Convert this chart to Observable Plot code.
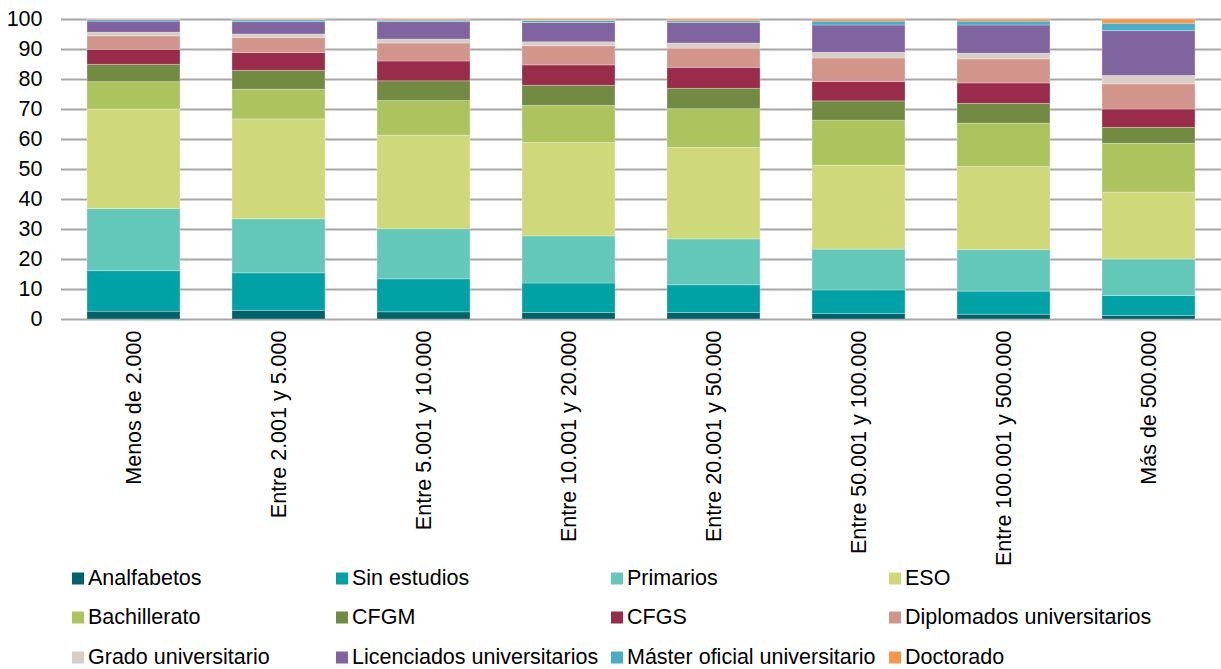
<!DOCTYPE html>
<html>
<head>
<meta charset="utf-8">
<script src="https://cdn.jsdelivr.net/npm/d3@7"></script>
<script src="https://cdn.jsdelivr.net/npm/@observablehq/plot@0.6"></script>
<style>
  html, body { margin: 0; padding: 0; background: #fff; }
  body { width: 1221px; height: 669px; overflow: hidden; font-family: "Liberation Sans", Arial, sans-serif; }
  #chart svg { overflow: visible; display: block; }
  #legend { position: relative; height: 109px; }
  .item { position: absolute; display: flex; align-items: center; font-size: 21.5px; color: #000; white-space: nowrap; transform: translateY(-50%); }
  .sw { width: 12px; height: 12px; margin-right: 4px; flex: none; }
</style>
</head>
<body>
<div id="chart"></div>
<div id="legend"></div>
<script>
const categories = ["Menos de 2.000", "Entre 2.001 y 5.000", "Entre 5.001 y 10.000", "Entre 10.001 y 20.000", "Entre 20.001 y 50.000", "Entre 50.001 y 100.000", "Entre 100.001 y 500.000", "Más de 500.000"];
const levels = ["Analfabetos", "Sin estudios", "Primarios", "ESO", "Bachillerato", "CFGM", "CFGS", "Diplomados universitarios", "Grado universitario", "Licenciados universitarios", "Máster oficial universitario", "Doctorado"];
const colors = ["#00636a", "#00a2a5", "#64c8b8", "#cfd97a", "#adc45e", "#728a42", "#982c4a", "#d1958c", "#d9cec6", "#8064a0", "#4bacc6", "#f79646"];

const analfabetos  = [2.6, 2.9, 2.4, 2.2, 2.2, 1.8, 1.6, 1.2];
const sinEstudios  = [13.5, 12.5, 11.0, 9.8, 9.2, 7.9, 7.7, 6.6];
const primarios    = [20.7, 18.0, 16.7, 15.7, 15.3, 13.6, 13.8, 12.2];
const eso          = [33.2, 33.3, 31.2, 31.1, 30.5, 28.0, 27.7, 22.3];
const bachillerato = [9.1, 9.9, 11.5, 12.4, 12.9, 15.0, 14.5, 16.3];
const cfgm         = [5.8, 6.3, 6.6, 6.7, 6.8, 6.4, 6.6, 5.3];
const cfgs         = [5.0, 5.9, 6.6, 6.8, 7.0, 6.5, 6.8, 6.1];
const diplomados   = [4.5, 5.0, 6.0, 6.4, 6.4, 7.8, 8.0, 8.4];
const grado        = [1.2, 1.2, 1.3, 1.3, 1.7, 1.9, 1.9, 2.8];
const licenciados  = [3.7, 4.1, 5.8, 6.4, 6.8, 9.1, 9.4, 14.9];
const master       = [0.5, 0.6, 0.5, 0.7, 0.6, 1.3, 1.3, 2.5];
const doctorado    = [0.2, 0.3, 0.4, 0.5, 0.6, 0.7, 0.7, 1.4];
const yTicks = [0, 10, 20, 30, 40, 50, 60, 70, 80, 90, 100];

const series = [analfabetos, sinEstudios, primarios, eso, bachillerato, cfgm, cfgs, diplomados, grado, licenciados, master, doctorado];
const data = [];
categories.forEach((c, i) => {
  series.forEach((s, j) => data.push({category: c, level: levels[j], value: s[i]}));
});

const chart = Plot.plot({
  width: 1221,
  height: 560,
  marginLeft: 61,
  marginRight: 0,
  marginTop: 19,
  marginBottom: 241,
  style: {fontFamily: "'Liberation Sans', Arial, sans-serif", fontSize: "21.5px", color: "#000", background: "#fff", overflow: "visible"},
  x: {domain: categories, paddingInner: 0.36, paddingOuter: 0.18, label: null},
  y: {domain: [0, 100], label: null},
  color: {domain: levels, range: colors},
  marks: [
    Plot.ruleY(yTicks, {stroke: "#a6a6a6", strokeWidth: 2}),
    Plot.ruleX([0], {frameAnchor: "left", stroke: "#a6a6a6", strokeWidth: 2}),
    Plot.barY(data, Plot.stackY({x: "category", y: "value", fill: "level", z: "level", order: null, stroke: "#ffffff", strokeOpacity: 0.35, strokeWidth: 0.8})),
    Plot.axisY({ticks: yTicks, tickSize: 0, tickPadding: 19, fontSize: 21.5, fill: "#000"}),
    Plot.axisX({tickSize: 0, tickRotate: -90, tickPadding: 11, fontSize: 21.5, fill: "#000"})
  ]
});
document.getElementById("chart").appendChild(chart);

const colX = [72, 336, 611, 889];
const rowY = [18, 57, 97];
const legend = document.getElementById("legend");
levels.forEach((l, i) => {
  const d = document.createElement("div");
  d.className = "item";
  d.style.left = colX[i % 4] + "px";
  d.style.top = rowY[Math.floor(i / 4)] + "px";
  d.innerHTML = `<span class="sw" style="background:${colors[i]}"></span><span>${l}</span>`;
  legend.appendChild(d);
});
</script>
</body>
</html>
